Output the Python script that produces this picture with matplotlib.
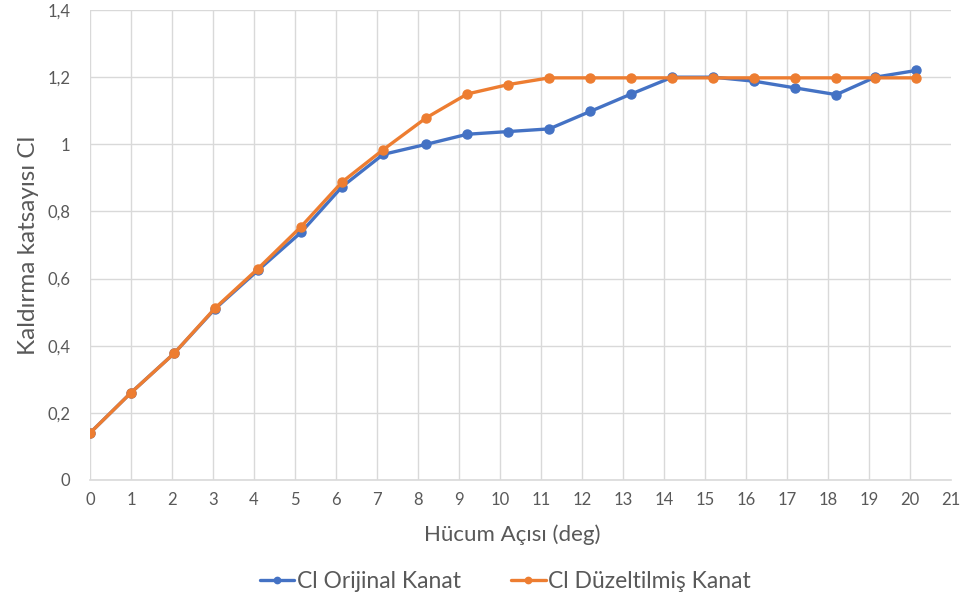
import matplotlib
matplotlib.use("Agg")
import matplotlib.pyplot as plt
from matplotlib.ticker import FuncFormatter

# angle of attack (deg) and lift coefficient for both wings
aoa = [0, 1, 2.05, 3.05, 4.1, 5.15, 6.15, 7.15, 8.2, 9.2, 10.2,
       11.2, 12.2, 13.2, 14.2, 15.2, 16.2, 17.2, 18.2, 19.15, 20.15]
cl_original = [0.14, 0.26, 0.377, 0.51, 0.625, 0.738, 0.874, 0.97, 1.0, 1.03, 1.038,
               1.046, 1.098, 1.15, 1.2, 1.2, 1.188, 1.168, 1.148, 1.2, 1.22]
cl_modified = [0.14, 0.26, 0.377, 0.512, 0.63, 0.755, 0.888, 0.984, 1.079, 1.15, 1.178,
               1.198, 1.198, 1.198, 1.198, 1.198, 1.198, 1.198, 1.198, 1.198, 1.198]

labels = ["Cl Orijinal Kanat", "Cl Düzeltilmiş Kanat"]
colors = ["#4472C4", "#ED7D31"]

plt.rcParams['font.family'] = ['Lato', 'DejaVu Sans']

fig = plt.figure(figsize = (9.68, 6.13), dpi = 100)
ax = fig.add_axes([0.093, 0.217, 0.8895, 0.7666])

for values, label, color in zip([cl_original, cl_modified], labels, colors):
    ax.plot(
        aoa,
        values,
        color = color,
        linewidth = 2.4,
        marker = "o",
        markersize = 6.5,
        label = label,
        solid_capstyle = "round"
    )

ax.set_xlim(0, 21)
ax.set_ylim(0, 1.4)
ax.set_xticks(range(0, 22))
ax.set_yticks([0, 0.2, 0.4, 0.6, 0.8, 1.0, 1.2, 1.4])
ax.yaxis.set_major_formatter(FuncFormatter(lambda v, p: ("%g" % round(v, 1)).replace(".", ",")))

ax.grid(True, color = "#D9D9D9", linewidth = 1)
ax.set_axisbelow(True)
ax.get_xgridlines()[-1].set_visible(False)

for side in ["top", "right", "left"]:
    ax.spines[side].set_visible(False)
ax.spines["bottom"].set_color("#D9D9D9")
ax.spines["bottom"].set_linewidth(1.2)

ax.tick_params(axis = "both", length = 0, labelsize = 12, labelcolor = "#595959")
ax.tick_params(axis = "x", pad = 9)
ax.tick_params(axis = "y", pad = 14)

ax.set_xlabel("Hücum Açısı (deg)", fontsize = 16, color = "#595959")
ax.xaxis.set_label_coords(0.49, -0.095)
ax.set_ylabel("Kaldırma katsayısı Cl", fontsize = 17.5, color = "#595959", labelpad = 6)

fig.legend(
    loc = "center",
    bbox_to_anchor = (0.522, 0.051),
    ncol = 2,
    frameon = False,
    fontsize = 16.5,
    labelcolor = "#595959",
    handlelength = 1.5,
    columnspacing = 2.2,
    handletextpad = 0.1,
    markerscale = 0.7
)

fig.savefig("out.png", dpi = 100)
